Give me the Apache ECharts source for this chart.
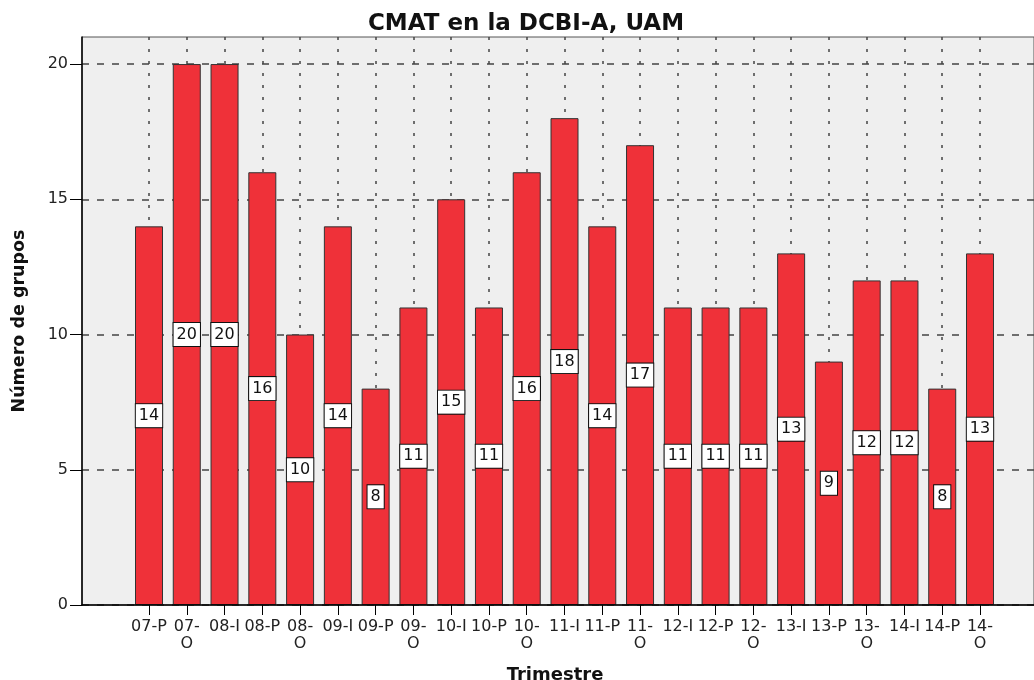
<!DOCTYPE html>
<html>
<head>
<meta charset="utf-8">
<script src="https://cdn.jsdelivr.net/npm/echarts@6/dist/echarts.min.js"></script>
<style>
  html, body { margin: 0; padding: 0; background: #fff; }
  #chart { width: 1034px; height: 680px; }
</style>
</head>
<body>
<div id="chart"></div>
<script>
(function () {
  'use strict';

  // ── Data ──
  var categories = ['07-P', '07-O', '08-I', '08-P', '08-O', '09-I', '09-P', '09-O',
    '10-I', '10-P', '10-O', '11-I', '11-P', '11-O', '12-I', '12-P', '12-O',
    '13-I', '13-P', '13-O', '14-I', '14-P', '14-O'];
  var grupos = [14, 20, 20, 16, 10, 14, 8, 11, 15, 11, 16, 18, 14, 17, 11, 11, 11, 13, 9, 12, 12, 8, 13];
  var yTicks = [0, 5, 10, 15, 20];

  var FONT = 'DejaVu Sans';
  var RED = '#ef3139';

  var chart = echarts.init(document.getElementById('chart'), null, { renderer: 'canvas' });

  chart.setOption({
    animation: false,
    title: [
      {
        text: 'CMAT en la DCBI-A, UAM',
        left: 521, top: 8, textAlign: 'center',
        textStyle: { fontFamily: FONT, fontSize: 23, fontWeight: 'bold', color: '#111' }
      },
      {
        text: 'Trimestre',
        left: 550, top: 661, textAlign: 'center',
        textStyle: { fontFamily: FONT, fontSize: 18, fontWeight: 'bold', color: '#111' }
      }
    ],
    grid: [
      // frame + background
      { left: 82, top: 37, right: -10, bottom: 75, show: true,
        backgroundColor: '#efefef', borderColor: '#555', borderWidth: 1 },
      // bars: first category at x=149, last at x=980
      { left: 149, top: 37, right: 54, bottom: 75 }
    ],
    xAxis: [
      {
        gridIndex: 0, type: 'value', min: 0, max: 1, position: 'bottom', z: 5,
        axisLine: { show: true, onZero: false, lineStyle: { color: '#000', width: 1.5 } },
        axisTick: { show: false }, axisLabel: { show: false }, splitLine: { show: false }
      },
      {
        gridIndex: 1, type: 'category', data: categories, boundaryGap: false,
        axisLine: { show: false },
        axisTick: { show: true, length: 10, interval: 0, lineStyle: { color: '#000' } },
        axisLabel: {
          interval: 0, margin: 13, fontFamily: FONT, fontSize: 16, color: '#222', lineHeight: 17,
          formatter: function (v) { return v.replace('-O', '-\nO'); }
        },
        splitLine: { show: true, interval: 0, lineStyle: { color: '#444', width: 1.5, type: [3, 9] } }
      }
    ],
    yAxis: [
      {
        gridIndex: 0, type: 'value', min: 0, max: 21, interval: 5,
        name: 'Número de grupos', nameLocation: 'middle', nameGap: 54, nameRotate: 90,
        nameTextStyle: { fontFamily: FONT, fontSize: 17.5, fontWeight: 'bold', color: '#111' },
        axisLine: { show: true, lineStyle: { color: '#000', width: 1.5 } },
        axisTick: { show: true, length: 12, customValues: yTicks, lineStyle: { color: '#000' } },
        axisLabel: { margin: 14, customValues: yTicks,
          fontFamily: FONT, fontSize: 16, color: '#222' },
        splitLine: { show: true, lineStyle: { color: '#444', width: 1.5, type: [7, 8] } }
      },
      {
        gridIndex: 1, type: 'value', min: 0, max: 21, show: false,
        splitLine: { show: false }
      }
    ],
    series: [
      {
        type: 'bar', xAxisIndex: 1, yAxisIndex: 1,
        data: grupos, barWidth: 28, clip: false,
        itemStyle: { color: RED, borderColor: '#333', borderWidth: 1 },
        label: {
          show: true, position: 'inside',
          fontFamily: FONT, fontSize: 16, color: '#111', lineHeight: 18,
          backgroundColor: '#fff', borderColor: '#111', borderWidth: 1,
          padding: [3, 3, 2, 3]
        }
      }
    ]
  });
})();
</script>
</body>
</html>
